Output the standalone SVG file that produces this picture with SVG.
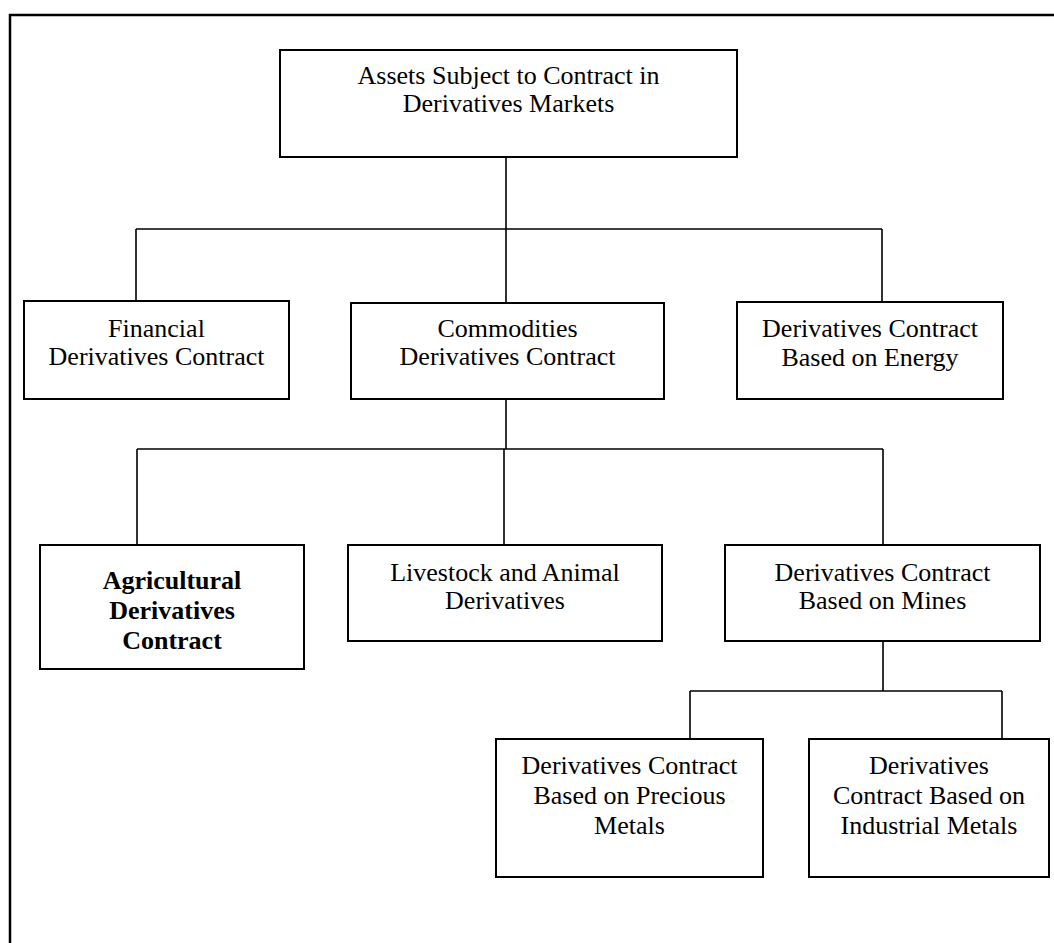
<svg xmlns="http://www.w3.org/2000/svg" width="1054" height="943" viewBox="0 0 1054 943">
<style>
.box{fill:#fff;stroke:#000;stroke-width:2}
.t{font-family:"Liberation Serif","Times New Roman",serif;font-size:26px;fill:#000;text-anchor:middle}
.b{font-weight:bold}
.c{fill:none;stroke:#000;stroke-width:1.6}
</style>
<rect x="0" y="0" width="1054" height="943" fill="#fff"/>
<rect id="frame" x="10" y="15" width="1070" height="960" fill="none" stroke="#000" stroke-width="2.5"/>
<g id="connectors">
<path class="c" d="M506 157V229M136 229H882M136 229V301M506 229V303M882 229V302"/>
<path class="c" d="M506 399V449M137 449H883M137 449V545M504 449V545M883 449V545"/>
<path class="c" d="M883 641V691M690 691H1002M690 691V739M1002 691V739"/>
</g>
<g id="root">
<rect class="box" x="280" y="50" width="457" height="107"/>
<text class="t" x="508.5" y="84">Assets Subject to Contract in</text>
<text class="t" x="508.5" y="112">Derivatives Markets</text>
</g>
<g id="financial">
<rect class="box" x="24" y="301" width="265" height="98"/>
<text class="t" x="156.5" y="337">Financial</text>
<text class="t" x="156.5" y="365">Derivatives Contract</text>
</g>
<g id="commodities">
<rect class="box" x="351" y="303" width="313" height="96"/>
<text class="t" x="507.5" y="337">Commodities</text>
<text class="t" x="507.5" y="365">Derivatives Contract</text>
</g>
<g id="energy">
<rect class="box" x="737" y="302" width="266" height="97"/>
<text class="t" x="870" y="337">Derivatives Contract</text>
<text class="t" x="870" y="366">Based on Energy</text>
</g>
<g id="agricultural">
<rect class="box" x="40" y="545" width="264" height="124"/>
<text class="t b" x="172" y="589">Agricultural</text>
<text class="t b" x="172" y="619">Derivatives</text>
<text class="t b" x="172" y="649">Contract</text>
</g>
<g id="livestock">
<rect class="box" x="348" y="545" width="314" height="96"/>
<text class="t" x="505" y="581">Livestock and Animal</text>
<text class="t" x="505" y="609">Derivatives</text>
</g>
<g id="mines">
<rect class="box" x="725" y="545" width="315" height="96"/>
<text class="t" x="882.5" y="581">Derivatives Contract</text>
<text class="t" x="882.5" y="609">Based on Mines</text>
</g>
<g id="precious">
<rect class="box" x="496" y="739" width="267" height="138"/>
<text class="t" x="629.5" y="774">Derivatives Contract</text>
<text class="t" x="629.5" y="804">Based on Precious</text>
<text class="t" x="629.5" y="834">Metals</text>
</g>
<g id="industrial">
<rect class="box" x="809" y="739" width="240" height="138"/>
<text class="t" x="929" y="774">Derivatives</text>
<text class="t" x="929" y="804">Contract Based on</text>
<text class="t" x="929" y="834">Industrial Metals</text>
</g>
</svg>
